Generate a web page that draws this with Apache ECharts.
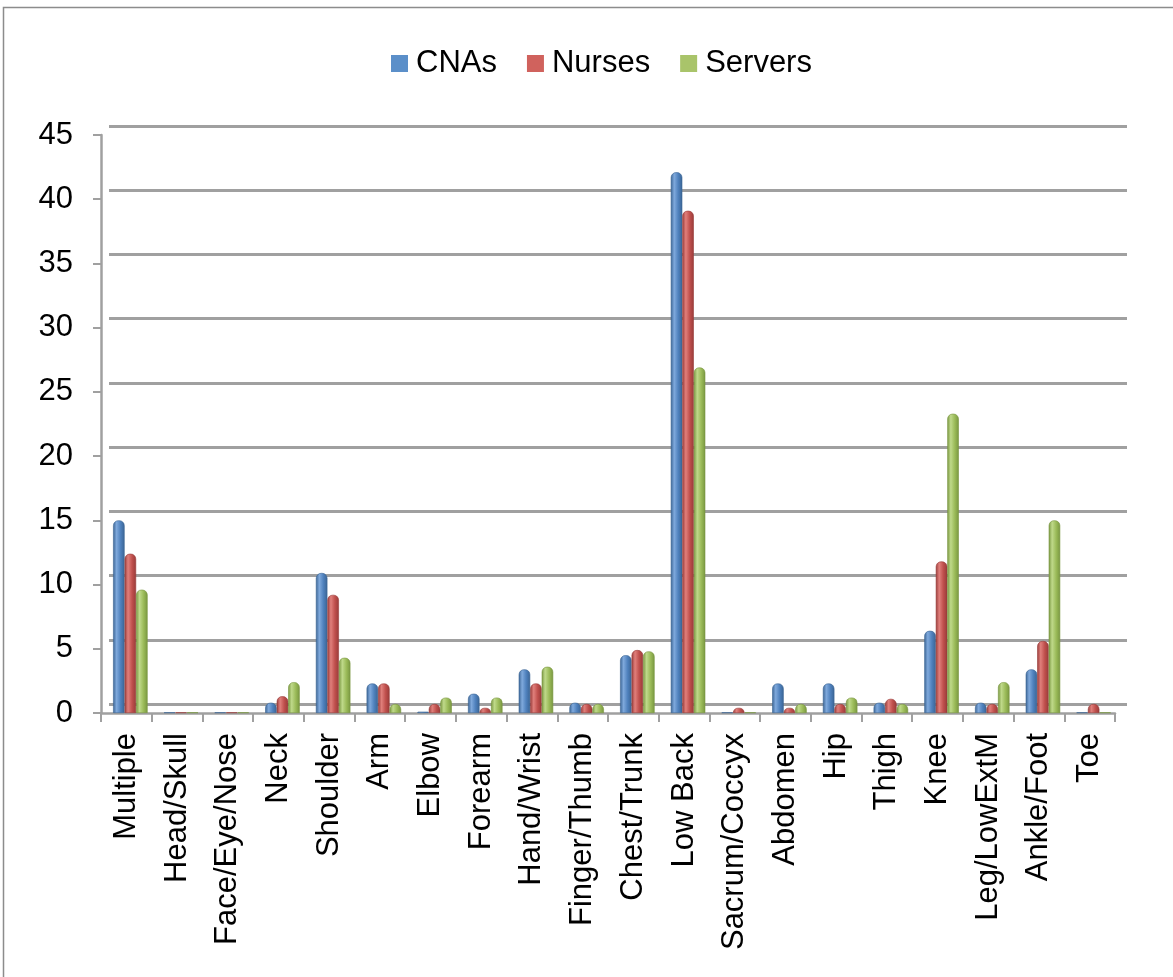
<!DOCTYPE html>
<html>
<head>
<meta charset="utf-8">
<script src="https://cdn.jsdelivr.net/npm/echarts@6/dist/echarts.min.js"></script>
<style>
html,body{margin:0;padding:0;background:#fff;}
#chart{width:1173px;height:977px;}
</style>
</head>
<body>
<div id="chart"></div>
<script>
// Injury share by body part (%)
const categories = ['Multiple','Head/Skull','Face/Eye/Nose','Neck','Shoulder','Arm','Elbow','Forearm','Hand/Wrist','Finger/Thumb','Chest/Trunk','Low Back','Sacrum/Coccyx','Abdomen','Hip','Thigh','Knee','Leg/LowExtM','Ankle/Foot','Toe'];
const cnas    = [15.0, 0.05, 0.05, 0.8, 10.9, 2.3, 0.1, 1.5, 3.4, 0.8, 4.5, 42.1, 0.05, 2.3, 2.3, 0.8, 6.4, 0.8, 3.4, 0.05];
const nurses  = [12.4, 0.05, 0.05, 1.3, 9.2, 2.3, 0.7, 0.4, 2.3, 0.7, 4.9, 39.1, 0.4, 0.4, 0.7, 1.1, 11.8, 0.7, 5.6, 0.7];
const servers = [9.6, 0.05, 0.05, 2.4, 4.3, 0.7, 1.2, 1.2, 3.6, 0.7, 4.8, 26.9, 0.05, 0.7, 1.2, 0.7, 23.3, 2.4, 15.0, 0.05];
const seriesNames = ['CNAs','Nurses','Servers'];
const yTicks = { min: 0, max: 45, interval: 5 };

const palette = [
  { base: '#4f81bd', light: '#7fa9dc', dark: '#3a6494', key: '#5b8fc9' },
  { base: '#c0504d', light: '#e07f7b', dark: '#983b39', key: '#d0625d' },
  { base: '#9bbb59', light: '#bfd98a', dark: '#789640', key: '#a9c46a' }
];

// horizontal shading that gives each column a rounded, cylinder-like look
function cylinder(c) {
  return new echarts.graphic.LinearGradient(0, 0, 1, 0, [
    { offset: 0, color: c.dark },
    { offset: 0.3, color: c.light },
    { offset: 0.65, color: c.base },
    { offset: 1, color: c.dark }
  ]);
}

const chart = echarts.init(document.getElementById('chart'));
const font = 'Liberation Sans, Arial, sans-serif';
const values = [cnas, nurses, servers];
const gridGray = '#a0a0a0';

const plotTop = 135, plotBottom = 264;

chart.setOption({
  backgroundColor: '#fff',
  animation: false,
  color: palette.map(p => p.key),
  graphic: [{
    type: 'rect',
    shape: { x: 3.5, y: 7.5, width: 1180, height: 1000 },
    style: { fill: 'none', stroke: '#8c8c8c', lineWidth: 1.5 }
  }],
  legend: {
    top: 43,
    left: 386,
    itemWidth: 17,
    itemHeight: 17,
    itemGap: 30,
    icon: 'rect',
    textStyle: { fontSize: 31, fontFamily: font, color: '#000', padding: [0, 0, 0, 3] },
    data: seriesNames.map((name, i) => ({
      name,
      itemStyle: { color: palette[i].key, borderWidth: 0 }
    }))
  },
  grid: [
    // front plane: axes, ticks and labels
    { left: 101, right: 58, top: plotTop, bottom: plotBottom },
    // back wall: gridlines sit slightly higher and to the right
    { left: 109, right: 46, top: 126, bottom: 273 },
    // columns stand midway in depth
    { left: 105, right: 54, top: plotTop, bottom: plotBottom }
  ],
  xAxis: [{
    gridIndex: 0,
    type: 'category',
    data: categories,
    axisLine: { lineStyle: { color: gridGray, width: 2.5 } },
    axisTick: { show: true, length: 9, lineStyle: { color: gridGray, width: 2 } },
    axisLabel: { rotate: 90, fontSize: 31, fontFamily: font, color: '#000', margin: 20 }
  }, {
    gridIndex: 1, type: 'category', data: categories, show: false
  }, {
    gridIndex: 2, type: 'category', data: categories, show: false
  }],
  yAxis: [{
    gridIndex: 0,
    type: 'value',
    min: yTicks.min, max: yTicks.max, interval: yTicks.interval,
    axisLine: { show: true, lineStyle: { color: gridGray, width: 2.5 } },
    axisTick: { show: true, length: 8, lineStyle: { color: gridGray, width: 2 } },
    axisLabel: { fontSize: 31, fontFamily: font, color: '#000', margin: 28 },
    splitLine: { show: false }
  }, {
    gridIndex: 1,
    type: 'value',
    min: yTicks.min, max: yTicks.max, interval: yTicks.interval,
    axisLine: { show: false }, axisTick: { show: false }, axisLabel: { show: false },
    splitLine: { lineStyle: { color: gridGray, width: 3 } }
  }, {
    gridIndex: 2,
    type: 'value',
    min: yTicks.min, max: yTicks.max, interval: yTicks.interval,
    show: false, splitLine: { show: false }
  }],
  series: seriesNames.map((name, i) => ({
    name,
    type: 'bar',
    xAxisIndex: 2,
    yAxisIndex: 2,
    data: values[i],
    barWidth: 11.5,
    barGap: '0%',
    z: 3,
    itemStyle: {
      color: cylinder(palette[i]),
      borderColor: palette[i].dark,
      borderWidth: 0.6,
      borderRadius: [5, 5, 0, 0]
    }
  }))
});
</script>
</body>
</html>
